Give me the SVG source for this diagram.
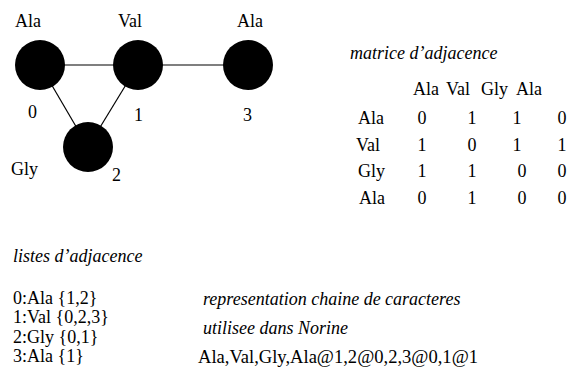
<svg xmlns="http://www.w3.org/2000/svg" width="569" height="374" viewBox="0 0 569 374">
<style>
text{font-family:"Liberation Serif","Times New Roman",serif;font-size:18px;fill:#000}
.i{font-style:italic}
.m{text-anchor:middle}
.node{fill:#000}
.edge{stroke:#000;stroke-width:1.2}
</style>
<rect width="569" height="374" fill="#fff"/>
<g id="connectors">
<line class="edge" x1="40" y1="65" x2="138" y2="65"/>
<line class="edge" x1="138" y1="65" x2="248" y2="65"/>
<line class="edge" x1="40" y1="65" x2="88" y2="147"/>
<line class="edge" x1="138" y1="65" x2="88" y2="147"/>
</g>
<g id="node0"><circle class="node" cx="40" cy="65" r="25"/><text x="15" y="27">Ala</text><text x="28" y="118">0</text></g>
<g id="node1"><circle class="node" cx="138" cy="65" r="25"/><text x="134" y="121">1</text><text x="118" y="27">Val</text></g>
<g id="node3"><circle class="node" cx="248" cy="65" r="25"/><text x="237" y="27">Ala</text><text x="243" y="121">3</text></g>
<g id="node2"><circle class="node" cx="88" cy="147" r="25"/><text x="11" y="175">Gly</text><text x="112" y="181">2</text></g>
<g id="matrix">
<text class="i" x="350" y="59">matrice d’adjacence</text>
<text x="413" y="95">Ala</text><text x="446" y="95">Val</text><text x="481" y="95">Gly</text><text x="516" y="95">Ala</text>
<text x="358" y="124">Ala</text><text class="m" x="422" y="124">0</text><text class="m" x="472" y="124">1</text><text class="m" x="517" y="124">1</text><text class="m" x="562" y="124">0</text>
<text x="356" y="151">Val</text><text class="m" x="422" y="151">1</text><text class="m" x="472" y="151">0</text><text class="m" x="517" y="151">1</text><text class="m" x="562" y="151">1</text>
<text x="358" y="177">Gly</text><text class="m" x="422" y="177">1</text><text class="m" x="472" y="177">1</text><text class="m" x="522" y="177">0</text><text class="m" x="562" y="177">0</text>
<text x="359" y="204">Ala</text><text class="m" x="422" y="204">0</text><text class="m" x="472" y="204">1</text><text class="m" x="522" y="204">0</text><text class="m" x="562" y="204">0</text>
</g>
<g id="lists">
<text class="i" x="13" y="262">listes d’adjacence</text>
<text x="13" y="304">0:Ala {1,2}</text>
<text x="13" y="323">1:Val {0,2,3}</text>
<text x="13" y="343">2:Gly {0,1}</text>
<text x="13" y="362">3:Ala {1}</text>
</g>
<g id="string">
<text class="i" x="203" y="305">representation chaine de caracteres</text>
<text class="i" x="203" y="334">utilisee dans Norine</text>
<text x="198" y="363" textLength="280" lengthAdjust="spacingAndGlyphs">Ala,Val,Gly,Ala@1,2@0,2,3@0,1@1</text>
</g>
</svg>
